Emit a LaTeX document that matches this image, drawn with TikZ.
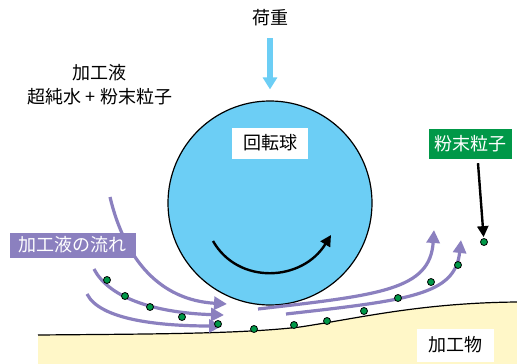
\documentclass[tikz,border=0pt]{standalone}
\usepackage{fontspec}
\setmainfont{Noto Sans CJK JP}
\usetikzlibrary{arrows.meta,positioning}
\definecolor{ballblue}{RGB}{108,206,245}
\definecolor{flowpurple}{RGB}{139,128,191}
\definecolor{powdergreen}{RGB}{0,152,72}
\definecolor{workyellow}{RGB}{255,247,200}

\tikzset{
	lbl/.style={font=\fontsize{18}{24}\selectfont,inner sep=0pt},
	tag/.style={lbl,minimum height=#1},
	particle/.style={circle,draw=black,fill=powdergreen,line width=0.8pt,inner sep=0pt,minimum size=7pt},
	flow/.style={draw=flowpurple,line width=3.2pt,-{Triangle[length=13pt,width=13pt]}},
	blk/.style={draw=black,line width=2.4pt,-{Triangle[length=11pt,width=11pt]}}
}

\begin{document}
\begin{tikzpicture}[x=1pt,y=-1pt]
	\useasboundingbox[fill=white] (0,0) rectangle (517,364);
	% workpiece
	\fill[workyellow] (38,335) .. controls (150,334) and (240,334) .. (300,327)
		.. controls (360,318) and (420,303) .. (517,302) -- (517,364) -- (38,364) -- cycle;
	\draw[line width=1.2pt] (38,335) .. controls (150,334) and (240,334) .. (300,327)
		.. controls (360,318) and (420,303) .. (517,302);
	\node[tag=33pt,fill=white,minimum width=77pt] (work) at (455,345) {加工物};

	% ball and load
	\node[circle,draw,fill=ballblue,line width=1.2pt,minimum size=204pt] (ball) at (270,203) {};
	\node[tag=31pt,fill=white,minimum width=76pt] (ballname) at (270,143) {回転球};
	\node[lbl] (load) at (270,18) {荷重};
	\draw[draw=ballblue,line width=6pt,-{Triangle[length=12pt,width=14pt]},shorten <=12pt,shorten >=11pt]
		(load.south) -- (ball.north);
	\draw[blk] (213,241) .. controls (238,285) and (302,282) .. (331,235);

	\node[lbl,align=center] (fluid) at (100,85) {加工液\\超純水\hspace{5pt}+\hspace{5pt}粉末粒子};

	% flow of the fluid
	\draw[flow] (110,197) .. controls (125,260) and (160,300) .. (227,304);
	\draw[flow] (94,269) .. controls (110,300) and (160,313) .. (224,315);
	\draw[flow] (87,294) .. controls (100,320) and (160,326) .. (222,326);
	\draw[flow] (258,309) .. controls (380,295) and (430,290) .. (434,230);
	\draw[flow] (286,314) .. controls (410,300) and (455,295) .. (461,240);
	\node[tag=25pt,fill=flowpurple,text=white,minimum width=126pt] (flowname) at (73,245) {加工液の流れ};

	% powder particles
	\foreach \x/\y [count=\i] in {107/280,125/296,150/307,182/317,218/324,254/329,294/325,
		327/321,364/311,398/298,431/282,458/265,484/242}
		\node[particle] (p\i) at (\x,\y) {};
	\node[tag=30pt,fill=powdergreen,text=white,minimum width=83pt] (powder) at (470,144) {粉末粒子};
	\draw[blk,shorten >=1pt] ([xshift=8pt,yshift=-4pt]powder.south) -- (p13);
\end{tikzpicture}
\end{document}
